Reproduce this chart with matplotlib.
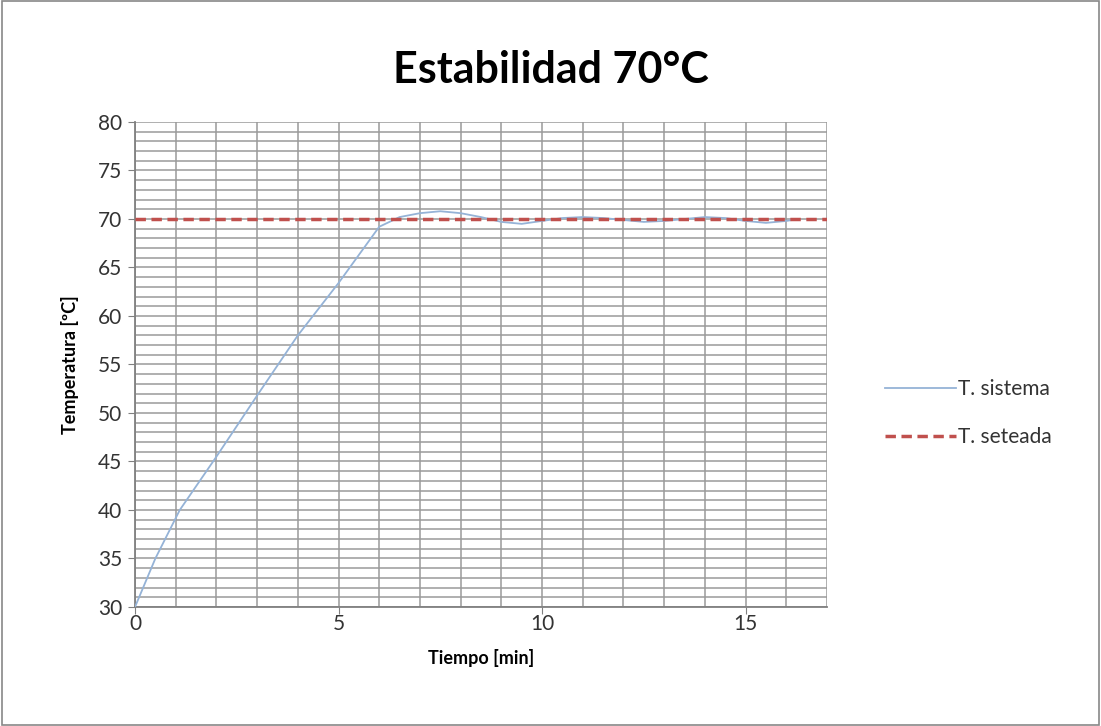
import matplotlib.pyplot as plt
from matplotlib.patches import Rectangle

# datos
tiempo = [0.0, 0.5, 1.1, 2.0, 3.0, 4.0, 5.0, 6.0, 6.5, 7.0, 7.5, 8.0, 8.5, 9.0, 9.5,
          10.0, 10.5, 11.0, 11.5, 12.0, 12.5, 13.0, 13.5, 14.0, 14.5, 15.0, 15.5, 16.0, 16.3]
temp = [30.0, 35.0, 40.0, 45.5, 51.8, 58.0, 63.4, 69.2, 70.2, 70.6, 70.8, 70.6, 70.2, 69.7, 69.5,
        69.8, 70.1, 70.2, 70.1, 69.9, 69.7, 69.8, 70.0, 70.2, 70.1, 69.8, 69.6, 69.8, 70.0]
setpoint_t = [0, 17]
setpoint = [70, 70]

plt.rcParams['font.family'] = ['Lato', 'DejaVu Sans']

fig = plt.figure(figsize=(11.01, 7.26), dpi=100)
ax = fig.add_axes([135/1101, 1-607/726, (827-135)/1101, (607-122)/726])

ax.plot(tiempo, temp, color='#95B3D7', lw=1.3, label='T. sistema', zorder=3)
ax.plot(setpoint_t, setpoint, color='#C0504D', lw=2.5, ls=(0, (3, 1.6)), label='T. seteada', zorder=4)

ax.set_xlim(0, 17)
ax.set_ylim(30, 80)
ax.set_xticks([0, 5, 10, 15])
ax.set_yticks(range(30, 81, 5))
ax.set_xticks(range(0, 18), minor=True)
ax.set_yticks(range(30, 81), minor=True)
ax.grid(which='both', color='#9A9A9A', lw=1.1)
ax.set_axisbelow(True)
ax.tick_params(which='major', direction='out', length=5, color='#808080', labelsize=15,
               labelcolor='#333333', pad=4)
ax.tick_params(axis='x', pad=0)
ax.tick_params(which='minor', length=0)
for s in ['top', 'right']:
    ax.spines[s].set_visible(False)
for s in ['left', 'bottom']:
    ax.spines[s].set_color('#808080')
    ax.spines[s].set_linewidth(1.3)

ax.set_xlabel('Tiempo [min]', fontweight='bold', fontsize=13, labelpad=11)
ax.set_ylabel('Temperatura [ºC]', fontweight='bold', fontsize=13, labelpad=14)
fig.text(0.5, 1-70/726, 'Estabilidad 70°C', ha='center', va='center', fontsize=31, fontweight='bold')

leg = fig.legend(loc='center left', bbox_to_anchor=(885/1101, 1-413/726), frameon=False,
                 fontsize=15, handlelength=3.4, handletextpad=0.1, labelspacing=1.35,
                 borderpad=0, borderaxespad=0)
for t in leg.get_texts():
    t.set_color('#333333')

fig.patches.append(Rectangle((0.002, 0.002), 0.996, 0.996, transform=fig.transFigure,
                             fill=False, edgecolor='#888888', lw=1.2))

plt.savefig('out.png')
